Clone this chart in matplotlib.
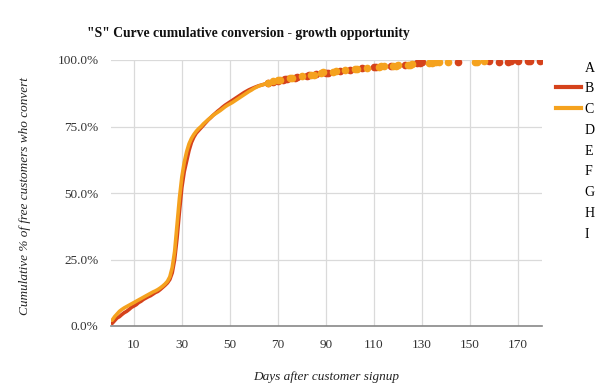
import numpy as np
import matplotlib
matplotlib.use("Agg")
import matplotlib.pyplot as plt
from matplotlib.lines import Line2D
from matplotlib.ticker import FuncFormatter

nan = np.nan

# Series B (red) : day -> cumulative % converted (NaN = gap in data)
days_b = [1, 2, 3, 4, 5, 6, 7, 8, 9, 10, 11, 12, 13, 14, 15, 16, 17, 18, 19, 20,
          21, 22, 23, 24, 25, 26, 27, 28, 29, 30, 31, 32, 33, 34, 35, 36, 37, 38, 39, 40,
          41, 42, 43, 44, 45, 46, 47, 48, 49, 50, 51, 52, 53, 54, 55, 56, 57, 58, 59, 60,
          62, 64, 66, 68, 70, 72, 73, 74, 75, 77, 78, 80, 82, 83, 84, 86, 87, 90, 91, 93,
          96, 98, 100, 102, 105, 107, 110, 111, 114, 117, 119, 123, 125, 128, 129, 130, 132,
          145, 147, 158, 160, 162, 164, 166, 167, 168, 170, 172, 174, 175, 177, 179]
pct_b = [1.0, 2.0, 3.0, 3.5, 4.3, 5.0, 5.5, 6.2, 7.0, 7.5, 8.0, 8.8, 9.3, 10.0, 10.5, 11.0, 11.4, 12.0, 12.6, 13.0,
         13.7, 14.5, 15.3, 16.2, 17.5, 20.0, 25.0, 33.0, 43.0, 52.0, 58.0, 62.0, 66.0, 69.0, 71.0, 72.5, 73.5, 74.5, 75.5, 76.5,
         77.5, 78.3, 79.2, 80.0, 80.8, 81.5, 82.3, 83.0, 83.6, 84.2, 84.8, 85.4, 86.0, 86.6, 87.2, 87.8, 88.3, 88.8, 89.2, 89.6,
         90.3, 90.8, 91.3, 91.8, 92.2, 92.6, 92.8, 93.0, nan, 93.3, 93.5, nan, 94.1, 94.2, nan, 94.6, nan, 95.2, 95.3, nan,
         95.9, nan, 96.4, nan, 96.9, nan, 97.3, 97.4, nan, 97.8, nan, 98.2, nan, 98.8, 99.0, 99.1, nan,
         99.3, nan, 99.6, nan, 99.4, nan, 99.4, 99.5, nan, 99.5, nan, 99.6, 99.6, nan, 99.6]

# Series C (orange)
days_c = [1, 2, 3, 4, 5, 6, 7, 8, 9, 10, 11, 12, 13, 14, 15, 16, 17, 18, 19, 20,
          21, 22, 23, 24, 25, 26, 27, 28, 29, 30, 31, 32, 33, 34, 35, 36, 37, 38, 39, 40,
          41, 42, 43, 44, 45, 46, 47, 48, 49, 50, 51, 52, 53, 54, 55, 56, 57, 58, 59, 60,
          62, 64, 66, 68, 70, 71, 73, 75, 76, 78, 80, 82, 84, 85, 87, 88, 89, 91, 93, 94,
          96, 98, 100, 102, 103, 105, 107, 109, 112, 113, 114, 116, 118, 119, 120, 122,
          124, 125, 126, 128, 133, 134, 135, 136, 137, 139, 141, 143, 152, 153, 154, 156]
pct_c = [2.2, 3.5, 4.5, 5.5, 6.2, 6.8, 7.3, 7.8, 8.3, 8.8, 9.3, 9.8, 10.3, 10.8, 11.3, 11.8, 12.3, 12.8, 13.2, 13.7,
         14.3, 15.0, 15.8, 16.8, 18.5, 22.0, 28.0, 38.0, 48.0, 56.0, 61.5, 65.5, 68.5, 70.5, 72.0, 73.2, 74.2, 75.0, 76.0, 76.8,
         77.6, 78.4, 79.2, 79.8, 80.4, 81.0, 81.7, 82.4, 83.0, 83.5, 84.0, 84.6, 85.2, 85.8, 86.4, 87.0, 87.6, 88.2, 88.7, 89.3,
         90.2, 90.8, 91.4, 92.0, 92.4, 92.6, nan, 93.1, 93.3, nan, 93.8, nan, 94.4, 94.5, nan, 95.2, 95.4, nan, 95.6, 95.8,
         nan, 96.2, nan, 96.6, 96.7, nan, 97.1, nan, 97.5, 97.6, 97.7, nan, 97.8, 97.9, 98.0, nan,
         98.1, 98.3, 98.5, nan, 98.9, 99.0, 99.1, 99.2, 99.2, nan, 99.3, nan, 99.2, 99.3, nan, 99.5]

legend_labels = ["A", "B", "C", "D", "E", "F", "G", "H", "I"]
x_ticks = [10, 30, 50, 70, 90, 110, 130, 150, 170]
y_ticks = [0, 25, 50, 75, 100]

title = '"S" Curve cumulative conversion - growth opportunity'
x_label = "Days after customer signup"
y_label = "Cumulative % of free customers who convert"

red = "#D5421B"
orange = "#F5A21E"
serif = "Liberation Serif"

fig = plt.figure(figsize=(6.0, 3.87), dpi=100)
ax = fig.add_axes([111 / 600, 1 - 326 / 387, (542 - 111) / 600, (326 - 60) / 387])

def tail_idx(days, vals, start=65):
    return [i for i, (d, v) in enumerate(zip(days, vals)) if d >= start and not np.isnan(v)]

ax.plot(days_b, np.array(pct_b) / 100, color=red, lw=2.6, solid_capstyle="round",
        marker="o", ms=4.5, markevery=tail_idx(days_b, pct_b), zorder=3)
ax.plot(days_c, np.array(pct_c) / 100, color=orange, lw=2.6, solid_capstyle="round",
        marker="o", ms=4.5, markevery=tail_idx(days_c, pct_c), zorder=4)

ax.set_xlim(0.5, 180)
ax.set_ylim(0, 1)
ax.set_xticks(x_ticks)
ax.set_yticks([t / 100 for t in y_ticks])
ax.yaxis.set_major_formatter(FuncFormatter(lambda v, p: f"{v * 100:.1f}%"))
ax.grid(True, color="#DADADA", lw=0.9)
ax.set_axisbelow(True)
for s in ["top", "right", "left"]:
    ax.spines[s].set_visible(False)
ax.spines["bottom"].set_color("#888888")
ax.spines["bottom"].set_linewidth(1.2)
ax.spines["bottom"].set_zorder(5)
ax.tick_params(length=0, labelsize=9.5, labelcolor="#333333", pad=9)
for lab in ax.get_xticklabels() + ax.get_yticklabels():
    lab.set_fontfamily(serif)

ax.set_xlabel(x_label, fontfamily=serif, fontstyle="italic", fontsize=9.5, color="#222222")
ax.set_ylabel(y_label, fontfamily=serif, fontstyle="italic", fontsize=9.5, color="#222222")
ax.xaxis.set_label_coords(0.5, (326 - 371) / 266)
ax.yaxis.set_label_coords((31 - 111) / 431, 0.49)
fig.text(248 / 600, 1 - 33 / 387, title, fontfamily=serif, fontweight="bold", fontsize=9.8,
         ha="center", va="center", color="#111111")

handles = []
for lab in legend_labels:
    if lab == "B":
        handles.append(Line2D([], [], color=red, lw=3))
    elif lab == "C":
        handles.append(Line2D([], [], color=orange, lw=3))
    else:
        handles.append(Line2D([], [], color="none", lw=3))
leg = ax.legend(handles, legend_labels, loc="upper left", bbox_to_anchor=(543 / 600, 1 - 49 / 387),
                bbox_transform=fig.transFigure, frameon=False, handlelength=1.8, handletextpad=0.3,
                labelspacing=0.56, prop={"family": serif, "size": 10})

fig.savefig("out.png", dpi=100)
